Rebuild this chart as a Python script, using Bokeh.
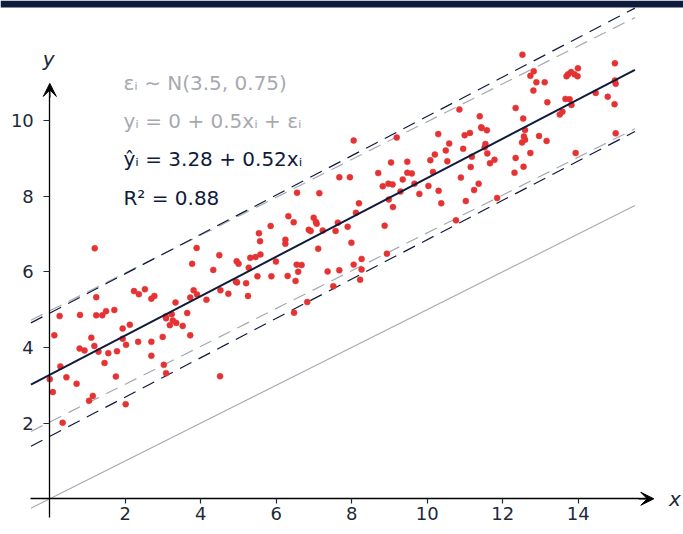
from bokeh.plotting import figure
from bokeh.models import (Range1d, LinearAxis, FixedTicker, Arrow, VeeHead,
                          Label, BoxAnnotation, ColumnDataSource)
from bokeh.core.properties import value
from bokeh.embed import file_html
from bokeh.resources import INLINE

# ---------------- data ----------------
X = [1.19, 3.89, 3.77, 1.23, 2.23, 2.36, 2.52, 2.69, 2.77, 3.81, 3.90, 3.72, 0.26, 0.80, 1.23,
     1.39, 1.49, 1.71, 3.33, 0.12, 1.10, 1.93, 2.12, 1.93, 2.02, 2.34, 2.69, 2.99, 3.08, 3.07,
     3.18, 3.23, 3.26, 3.35, 3.52, 3.64, 3.72, 0.28, 0.79, 0.92, 1.18, 1.29, 1.45, 1.55, 1.78,
     1.75, 2.69, 0.00, 0.44, 0.71, 0.08, 1.14, 1.04, 2.01, 3.02, 3.08, 0.34,
     4.15, 4.33, 4.52, 4.51, 4.73, 4.93, 4.96, 4.95, 5.00, 5.20, 5.25, 5.27, 5.50, 5.87, 5.99,
     6.30, 6.51, 6.47, 6.58, 6.54, 6.67, 6.82, 7.36, 7.51, 7.67,
     7.67, 7.95, 6.55, 7.14, 6.32, 6.46, 5.85, 5.54, 5.57, 6.24, 6.24, 6.99, 7.05, 7.07, 6.86,
     6.91, 7.23, 7.11, 7.63, 7.57, 7.89, 4.49, 5.31, 5.45, 5.58,
     10.85, 11.39, 11.43, 11.44, 11.58, 8.05, 9.19, 10.29, 10.99, 11.13, 10.58, 11.54, 11.52,
     10.95, 10.49, 10.20, 11.59, 11.78, 11.66, 11.18, 11.15, 10.08, 10.53, 9.04, 9.47, 8.70,
     9.47, 9.59, 10.15, 9.35, 10.89, 8.82, 8.97, 9.08, 9.66, 10.03, 11.36, 11.24, 10.30, 9.29,
     9.79, 8.98, 9.09, 10.37, 11.02, 11.85, 8.19, 8.11, 7.99, 8.87, 10.76, 8.93, 8.05, 8.26,
     8.26, 8.22,
     12.52, 12.73, 12.82, 12.89, 13.11, 12.81, 12.34, 12.54, 12.59, 12.56, 12.59, 12.51, 12.96,
     13.16, 12.73, 12.34, 12.55, 12.31, 13.18, 13.66, 13.77, 13.82, 13.58, 13.51, 13.69, 13.73,
     13.81, 13.90, 13.98, 13.99, 14.46, 14.78, 14.97, 14.97, 14.99, 14.96, 14.99, 13.93]
Y = [6.62, 6.63, 6.21, 5.33, 5.49, 5.41, 5.54, 5.29, 5.36, 5.51, 5.40, 5.32, 4.83, 4.86, 4.85,
     4.85, 4.96, 4.99, 5.19, 4.32, 4.26, 4.50, 4.60, 4.23, 4.07, 4.15, 4.15, 4.28, 4.77, 4.82,
     4.59, 4.88, 4.71, 4.65, 4.57, 4.91, 4.32, 3.50, 3.97, 3.92, 4.04, 3.89, 3.59, 3.85, 3.90,
     3.23, 3.78, 3.16, 3.21, 3.04, 2.82, 2.72, 2.59, 2.50, 3.54, 3.32, 2.01,
     5.26, 6.05, 5.51, 3.24, 5.42, 5.74, 5.72, 6.28, 6.21, 5.70, 5.36, 6.11, 5.88, 5.88, 6.27,
     5.89, 5.76, 4.92, 6.00, 6.19, 6.18, 5.20, 6.01, 5.62, 6.04,
     8.50, 8.50, 8.09, 8.08, 7.47, 7.31, 7.21, 7.02, 6.81, 6.85, 6.74, 7.43, 7.32, 7.27, 7.11,
     7.08, 7.09, 6.61, 7.30, 7.08, 7.19, 6.44, 6.37, 6.39, 6.46,
     10.29, 10.11, 9.82, 9.80, 9.74, 9.47, 9.55, 9.64, 9.61, 9.67, 9.39, 9.38, 9.29,
     9.25, 9.21, 9.10, 9.13, 8.96, 8.87, 9.04, 8.77, 8.95, 8.92, 8.89, 8.91, 8.61,
     8.62, 8.60, 8.64, 8.44, 8.49, 8.26, 8.33, 8.31, 8.33, 8.27, 8.33, 8.16, 8.14, 8.12,
     8.06, 7.91, 7.71, 7.81, 7.87, 7.95, 7.81, 7.56, 6.77, 7.22, 7.36, 6.48, 6.19, 6.34,
     6.06, 5.79,
     11.74, 11.18, 11.30, 11.01, 11.01, 10.79, 10.33, 10.05, 9.75, 9.58, 9.49, 9.42, 9.59,
     9.46, 9.14, 9.01, 8.78, 8.62, 10.48, 10.57, 10.56, 10.41, 10.23, 10.16, 11.17, 11.22,
     11.28, 11.22, 11.17, 11.38, 10.73, 10.63, 11.51, 11.06, 10.97, 10.43, 9.66, 9.14]

TRUE_INTERCEPT = 0.0
TRUE_SLOPE = 0.5
NOISE_MEAN = 3.5
NOISE_SD = 0.75
Z95 = 1.96
FIT_INTERCEPT = 3.28
FIT_SLOPE = 0.52
FIT_BAND = 1.63          # half width of fitted prediction band
LINE_X = [-0.5, 15.5]    # extent of the drawn lines

X_TICKS = [2, 4, 6, 8, 10, 12, 14]
Y_TICKS = [2, 4, 6, 8, 10]

TEXT_LINES = ["εᵢ ∼ N(3.5, 0.75)",
              "yᵢ = 0 + 0.5xᵢ + εᵢ",
              "ŷᵢ = 3.28 + 0.52xᵢ",
              "R² = 0.88"]
TEXT_Y = [10.99, 9.99, 8.99, 7.95]

# ---------------- styles ----------------
NAVY = "#0f1b3d"
GREY = "#a7a9b1"
RED = "#e53232"
INK = "#1c2a3a"
FONT = "DejaVu Sans"

X0, X1 = -1.306, 16.787
Y0, Y1 = -0.944, 13.172

p = figure(width=683, height=534, x_range=Range1d(X0, X1), y_range=Range1d(Y0, Y1),
           x_axis_type=None, y_axis_type=None, toolbar_location=None,
           output_backend="svg", min_border=0, outline_line_color=None,
           background_fill_color="white", border_fill_color="white")
p.grid.visible = False

# top bar
p.add_layout(BoxAnnotation(bottom=Y1 - 0.185, fill_color=NAVY, fill_alpha=1,
                           line_color=None))

def line_y(a, b, xs):
    return [a + b * x for x in xs]

# true line and true band (grey)
p.line(LINE_X, line_y(TRUE_INTERCEPT, TRUE_SLOPE, LINE_X), line_color=GREY, line_width=1.1)
for s in (1, -1):
    p.line(LINE_X, line_y(TRUE_INTERCEPT + NOISE_MEAN + s * Z95 * NOISE_SD, TRUE_SLOPE, LINE_X),
           line_color=GREY, line_width=1.2, line_dash="13 8")
# fitted band (navy)
for s in (1, -1):
    p.line(LINE_X, line_y(FIT_INTERCEPT + s * FIT_BAND, FIT_SLOPE, LINE_X),
           line_color=NAVY, line_width=1.2, line_dash="13 8")

p.scatter(X, Y, size=6, fill_color=RED, line_color=RED, line_width=0.5)

p.line(LINE_X, line_y(FIT_INTERCEPT, FIT_SLOPE, LINE_X), line_color=NAVY, line_width=2)

# axes
def style_axis(ax):
    ax.axis_line_color = "black"
    ax.axis_line_width = 1.3
    ax.major_tick_line_color = INK
    ax.major_tick_line_width = 1.2
    ax.major_tick_in = 0
    ax.minor_tick_line_color = None
    ax.major_label_text_font = FONT
    ax.major_label_text_font_size = "18px"
    ax.major_label_text_color = INK

xax = LinearAxis(fixed_location=0, bounds=(-0.5, 15.9), ticker=FixedTicker(ticks=X_TICKS))
style_axis(xax)
xax.major_tick_out = 5
xax.major_label_standoff = 3
p.add_layout(xax, "below")

yax = LinearAxis(fixed_location=0, bounds=(-0.5, 10.9), ticker=FixedTicker(ticks=Y_TICKS))
style_axis(yax)
yax.major_tick_out = 6
yax.major_label_standoff = 10
p.add_layout(yax, "left")

p.add_layout(Arrow(end=VeeHead(size=13, fill_color="black", line_color="black", line_width=1),
                   x_start=15.6, y_start=0, x_end=16.0, y_end=0,
                   line_color="black", line_width=1.3))
p.add_layout(Arrow(end=VeeHead(size=13, fill_color="black", line_color="black", line_width=1),
                   x_start=0, y_start=10.6, x_end=0, y_end=10.98,
                   line_color="black", line_width=1.3))

p.add_layout(Label(x=16.4, y=0, text="x", text_font=FONT, text_font_style="italic",
                   text_font_size="20px", text_color=INK, text_baseline="middle",
                   text_align="left"))
p.add_layout(Label(x=-0.03, y=11.62, text="y", text_font=FONT, text_font_style="italic",
                   text_font_size="20px", text_color=INK, text_baseline="middle",
                   text_align="center"))

src = ColumnDataSource(dict(x=[1.95] * 4, y=TEXT_Y, text=TEXT_LINES,
                            color=[GREY, GREY, NAVY, NAVY]))
p.text(x="x", y="y", text="text", source=src, text_color="color",
       text_font=value(FONT), text_font_size="20px", text_baseline="alphabetic",
       text_align="left")

open("out.html", "w").write(file_html(p, INLINE))
